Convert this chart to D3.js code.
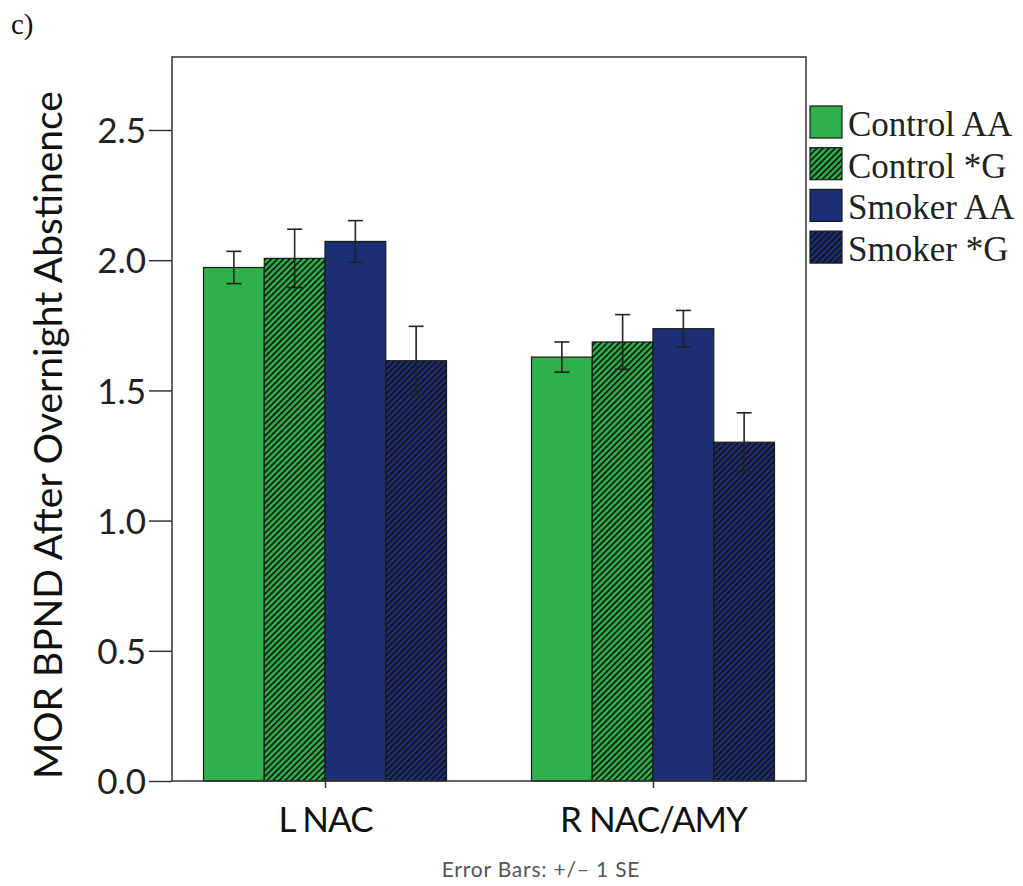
<!DOCTYPE html>
<html>
<head>
<meta charset="utf-8">
<script src="https://cdn.jsdelivr.net/npm/d3@7"></script>
<style>
  body { margin: 0; background: #fff; }
</style>
</head>
<body>
<div id="chart"></div>
<script>
// data
var regions = ["L NAC", "R NAC/AMY"];
var groups = ["Control AA", "Control *G", "Smoker AA", "Smoker *G"];
var means = [
  [1.972, 2.007, 2.072, 1.614],
  [1.628, 1.686, 1.737, 1.301]
];
var stdErr = [
  [0.062, 0.112, 0.080, 0.132],
  [0.058, 0.105, 0.070, 0.113]
];
var yTicks = [0, 0.5, 1.0, 1.5, 2.0, 2.5];

var W = 1023, H = 886;
var plotL = 172, plotR = 806, plotT = 57, plotB = 781;

var svg = d3.select("#chart").append("svg")
    .attr("width", W)
    .attr("height", H);

var colors = {"Control AA": "#2eb14a", "Control *G": "#2eb14a", "Smoker AA": "#1c2f76", "Smoker *G": "#1c2f76"};

var defs = svg.append("defs");
["Control *G", "Smoker *G"].forEach(function(g, i) {
    var p = defs.append("pattern")
        .attr("id", "hatch" + i)
        .attr("patternUnits", "userSpaceOnUse")
        .attr("width", 4.3)
        .attr("height", 4.3)
        .attr("patternTransform", "rotate(45)");
    p.append("rect").attr("width", 4.3).attr("height", 4.3).attr("fill", colors[g]);
    p.append("line")
        .attr("x1", 1).attr("y1", 0).attr("x2", 1).attr("y2", 4.3)
        .attr("stroke", "#111").attr("stroke-width", 1.7);
});
function fillFor(g) {
    if (g == "Control *G") return "url(#hatch0)";
    if (g == "Smoker *G") return "url(#hatch1)";
    return colors[g];
}

var y = d3.scaleLinear().domain([0, 2.5]).range([plotB, 130]);
var x0 = d3.scalePoint().domain(regions).range([plotL, plotR]).padding(0.4665);
var x1 = d3.scaleBand().domain(groups).range([-121.5, 121.5]).paddingInner(0);

// bars
var rows = [];
regions.forEach(function(r, i) {
    groups.forEach(function(g, j) {
        rows.push({region: r, group: g, mean: means[i][j], se: stdErr[i][j]});
    });
});

svg.selectAll("rect.bar")
    .data(rows)
    .enter().append("rect")
    .attr("class", "bar")
    .attr("x", function(d) { return x0(d.region) + x1(d.group); })
    .attr("y", function(d) { return y(d.mean); })
    .attr("width", x1.bandwidth())
    .attr("height", function(d) { return y(0) - y(d.mean); })
    .attr("fill", function(d) { return fillFor(d.group); })
    .attr("stroke", "#1a1a1a")
    .attr("stroke-width", 1.2);

// error bars
var eb = svg.selectAll("g.err")
    .data(rows)
    .enter().append("g")
    .attr("class", "err")
    .attr("stroke", "#222")
    .attr("stroke-width", 1.6)
    .attr("transform", function(d) { return "translate(" + (x0(d.region) + x1(d.group) + x1.bandwidth() / 2) + ",0)"; });
eb.append("line")
    .attr("y1", function(d) { return y(d.mean + d.se); })
    .attr("y2", function(d) { return y(d.mean - d.se); });
eb.append("line")
    .attr("x1", -7.5).attr("x2", 7.5)
    .attr("y1", function(d) { return y(d.mean + d.se); })
    .attr("y2", function(d) { return y(d.mean + d.se); });
eb.append("line")
    .attr("x1", -7.5).attr("x2", 7.5)
    .attr("y1", function(d) { return y(d.mean - d.se); })
    .attr("y2", function(d) { return y(d.mean - d.se); });

// frame
svg.append("rect")
    .attr("x", plotL).attr("y", plotT)
    .attr("width", plotR - plotL).attr("height", plotB - plotT)
    .attr("fill", "none")
    .attr("stroke", "#333")
    .attr("stroke-width", 1.5);

// y axis
var yAxis = svg.append("g")
    .attr("transform", "translate(" + plotL + ",0)")
    .call(d3.axisLeft(y).tickValues(yTicks).tickFormat(d3.format(".1f")).tickSize(23).tickPadding(3));
yAxis.select(".domain").remove();
yAxis.selectAll("line").attr("stroke", "#333").attr("stroke-width", 1.5);
yAxis.selectAll("text")
    .attr("font-family", "Lato")
    .attr("font-size", 35)
    .attr("fill", "#222")
    .attr("dy", "0.36em");

// x axis
var xAxis = svg.append("g")
    .attr("transform", "translate(0," + plotB + ")")
    .call(d3.axisBottom(x0).tickSize(7).tickPadding(19));
xAxis.select(".domain").remove();
xAxis.selectAll("line").attr("stroke", "#333").attr("stroke-width", 1.5);
xAxis.selectAll("text")
    .attr("font-family", "Lato")
    .attr("font-size", 35)
    .attr("letter-spacing", -1)
    .attr("fill", "#111")
    .attr("dy", "0.71em");

// y title
svg.append("text")
    .attr("transform", "translate(62,435) rotate(-90)")
    .attr("text-anchor", "middle")
    .attr("font-family", "Lato")
    .attr("font-size", 39)
    .attr("fill", "#111")
    .text("MOR BPND After Overnight Abstinence");

// footnote
svg.append("text")
    .attr("x", 541)
    .attr("y", 877)
    .attr("text-anchor", "middle")
    .attr("font-family", "Lato")
    .attr("font-size", 21)
    .attr("letter-spacing", 0.8)
    .attr("fill", "#555")
    .text("Error Bars: +/\u2013 1 SE");

// panel letter
svg.append("text")
    .attr("x", 11).attr("y", 34)
    .attr("font-family", "Liberation Serif")
    .attr("font-size", 29)
    .attr("fill", "#111")
    .text("c)");

// legend
var leg = svg.selectAll("g.leg")
    .data(groups)
    .enter().append("g")
    .attr("class", "leg")
    .attr("transform", function(d, i) { return "translate(810," + (106 + i * 41.7) + ")"; });
leg.append("rect")
    .attr("width", 32).attr("height", 32)
    .attr("fill", function(d) { return fillFor(d); })
    .attr("stroke", "#1a1a1a")
    .attr("stroke-width", 1.2);
leg.append("text")
    .attr("x", 38).attr("y", 30)
    .attr("font-family", "Liberation Serif")
    .attr("font-size", 35)
    .attr("fill", "#222")
    .text(function(d) { return d; });
</script>
</body>
</html>
